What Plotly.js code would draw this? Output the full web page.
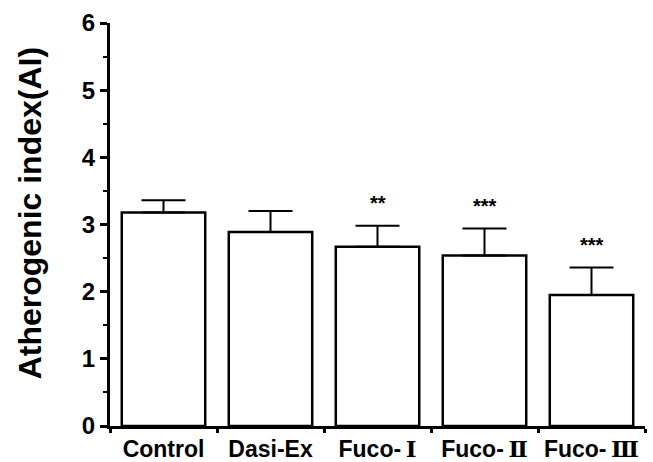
<!DOCTYPE html>
<html>
<head>
<meta charset="utf-8">
<script src="https://cdn.plot.ly/plotly-3.0.1.min.js"></script>
<style>html,body{margin:0;padding:0;background:#fff}#chart{width:653px;height:462px}</style>
</head>
<body>
<div id="chart"></div>
<script>
const categories = ["Control", "Dasi-Ex", "Fuco-\u2160", "Fuco-\u2161", "Fuco-\u2162"];
const numStyle = "font-family:'DejaVu Serif';font-weight:bold";
const categoryLabels = ["Control", "Dasi-Ex",
  "Fuco-\u2009<span style=\"" + numStyle + "\">\u2160</span>",
  "Fuco-\u2009<span style=\"" + numStyle + "\">\u2161</span>",
  "Fuco-\u2009<span style=\"" + numStyle + "\">\u2162</span>"];
const meanValues = [3.18, 2.89, 2.67, 2.54, 1.95];
const errorValues = [0.18, 0.31, 0.31, 0.40, 0.41];
const sigLabels = ["", "", "**", "***", "***"];
const yTickValues = [0, 1, 2, 3, 4, 5, 6];
const yTitle = "Atherogenic index(AI)";

const fontFam = "Arial, 'Liberation Sans', 'Noto Sans CJK SC', sans-serif";

const trace = {
  type: "bar",
  x: categories,
  y: meanValues,
  marker: { color: "#ffffff", line: { color: "#000000", width: 2.5 } },
  error_y: { type: "data", array: errorValues, symmetric: false, arrayminus: errorValues.map(() => 0), visible: true, color: "#000000", thickness: 2, width: 22 },
  hoverinfo: "none"
};

const annotations = sigLabels.map((s, i) => ({
  x: categories[i],
  y: meanValues[i] + errorValues[i] + 0.34,
  xref: "x", yref: "y",
  text: s,
  showarrow: false,
  yanchor: "middle",
  font: { family: fontFam, size: 20, color: "#000", weight: "bold" }
})).filter(a => a.text !== "");

annotations.push({
  xref: "paper", yref: "paper",
  x: -0.15, y: 0.527,
  xanchor: "center", yanchor: "middle",
  textangle: -90,
  text: yTitle,
  showarrow: false,
  font: { family: fontFam, size: 32, color: "#000", weight: "bold" }
});

const layout = {
  width: 653, height: 462,
  margin: { l: 110, r: 8, t: 23, b: 36 },
  paper_bgcolor: "#fff", plot_bgcolor: "#fff",
  showlegend: false,
  bargap: 0.22,
  font: { family: fontFam, color: "#000" },
  xaxis: {
    type: "category",
    tickson: "boundaries",
    tickvals: categories,
    ticktext: categoryLabels,
    tickangle: 0,
    ticks: "outside", ticklen: 4, tickwidth: 3, tickcolor: "#000",
    showline: true, linecolor: "#000", linewidth: 3,
    showgrid: false, zeroline: false,
    tickfont: { family: fontFam, size: 23, color: "#000", weight: "bold" },
    range: [-0.5, 4.5]
  },
  yaxis: {
    range: [0, 6],
    tickvals: yTickValues,
    ticktext: yTickValues.map(String),
    ticks: "outside", ticklen: 7, tickwidth: 3, tickcolor: "#000",
    minor: { dtick: 0.5, tick0: 0, ticks: "outside", ticklen: 4, tickwidth: 2, tickcolor: "#000" },
    showline: true, linecolor: "#000", linewidth: 3,
    showgrid: false, zeroline: false,
    tickfont: { family: fontFam, size: 24, color: "#000", weight: "bold" }
  },
  annotations: annotations
};

Plotly.newPlot("chart", [trace], layout, { displayModeBar: false, staticPlot: true });
</script>
</body>
</html>
